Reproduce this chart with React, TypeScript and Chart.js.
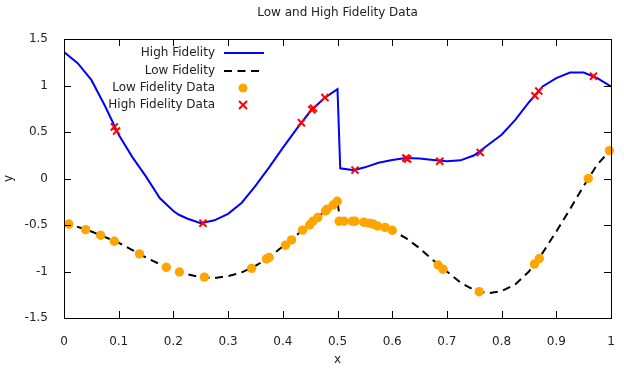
import React, { useEffect, useRef } from "react";
import { Chart, registerables } from "chart.js";

Chart.register(...registerables);

const chartTitle = "Low and High Fidelity Data";
const xTitle = "x";
const yTitle = "y";
const legendLabels = ["High Fidelity", "Low Fidelity", "Low Fidelity Data", "High Fidelity Data"];

const hfCurveX = [0, 0.025, 0.05, 0.075, 0.1, 0.125, 0.15, 0.175, 0.2, 0.21, 0.225, 0.25, 0.275, 0.3, 0.325, 0.35, 0.375, 0.4, 0.425, 0.45, 0.475, 0.5, 0.505, 0.53, 0.55, 0.575, 0.6, 0.625, 0.65, 0.675, 0.7, 0.725, 0.75, 0.775, 0.8, 0.825, 0.85, 0.875, 0.9, 0.925, 0.95, 0.975, 1.0];
const hfCurveY = [1.36, 1.24, 1.06, 0.78, 0.47, 0.23, 0.02, -0.21, -0.35, -0.39, -0.43, -0.48, -0.45, -0.38, -0.26, -0.08, 0.12, 0.33, 0.53, 0.72, 0.86, 0.96, 0.11, 0.09, 0.12, 0.17, 0.2, 0.22, 0.215, 0.2, 0.185, 0.195, 0.25, 0.36, 0.47, 0.63, 0.82, 0.99, 1.08, 1.14, 1.14, 1.08, 0.99];

const lfCurveX = [0, 0.025, 0.05, 0.075, 0.1, 0.125, 0.15, 0.175, 0.2, 0.225, 0.25, 0.275, 0.3, 0.325, 0.35, 0.375, 0.4, 0.425, 0.45, 0.475, 0.5, 0.505, 0.525, 0.55, 0.575, 0.6, 0.625, 0.65, 0.675, 0.7, 0.725, 0.75, 0.775, 0.8, 0.825, 0.85, 0.875, 0.9, 0.925, 0.95, 0.975, 1.0];
const lfCurveY = [-0.48, -0.52, -0.57, -0.63, -0.69, -0.77, -0.85, -0.92, -0.98, -1.03, -1.06, -1.07, -1.05, -1.01, -0.94, -0.85, -0.73, -0.61, -0.49, -0.36, -0.25, -0.46, -0.46, -0.47, -0.51, -0.56, -0.64, -0.75, -0.88, -1.0, -1.12, -1.2, -1.235, -1.21, -1.14, -1.0, -0.8, -0.57, -0.33, -0.08, 0.15, 0.31];

const lfDataX = [0.009, 0.0396, 0.067, 0.092, 0.138, 0.187, 0.211, 0.2565, 0.343, 0.37, 0.375, 0.405, 0.416, 0.436, 0.449, 0.455, 0.464, 0.478, 0.481, 0.492, 0.4995, 0.503, 0.512, 0.527, 0.532, 0.548, 0.558, 0.565, 0.573, 0.587, 0.6, 0.684, 0.693, 0.759, 0.86, 0.869, 0.9585, 0.997];
const lfDataY = [-0.49, -0.55, -0.61, -0.675, -0.81, -0.955, -1.005, -1.06, -0.966, -0.866, -0.85, -0.717, -0.66, -0.555, -0.5, -0.46, -0.42, -0.35, -0.33, -0.285, -0.245, -0.46, -0.46, -0.46, -0.46, -0.47, -0.48, -0.49, -0.51, -0.525, -0.557, -0.93, -0.976, -1.217, -0.92, -0.86, 0.0, 0.3];

const hfDataX = [0.092, 0.096, 0.254, 0.434, 0.453, 0.456, 0.477, 0.532, 0.625, 0.628, 0.687, 0.761, 0.861, 0.868, 0.968];
const hfDataY = [0.555, 0.51, -0.48, 0.6, 0.74, 0.755, 0.87, 0.09, 0.22, 0.21, 0.185, 0.28, 0.89, 0.94, 1.1];

const xTicks = [0, 0.1, 0.2, 0.3, 0.4, 0.5, 0.6, 0.7, 0.8, 0.9, 1];
const yTicks = [-1.5, -1, -0.5, 0, 0.5, 1, 1.5];

const FONT = "DejaVu Sans, sans-serif";
const TEXT = "#222";
const BLUE = "#0000ff";
const ORANGE = "#ffa500";
const RED = "#ff0000";
const DASH = [8, 5.5];

const toPts = (xs: number[], ys: number[]) => xs.map((x, i) => ({ x, y: ys[i] }));
const fmt = (v: any) => String(Number(Number(v).toFixed(2)));

const decorPlugin = {
  id: "decor",
  afterDraw(chart: any) {
    const { ctx, chartArea: a, scales } = chart;
    const xs = scales.x;
    const ys = scales.y;
    ctx.save();
    ctx.strokeStyle = "#000";
    ctx.lineWidth = 1;
    ctx.setLineDash([]);
    ctx.strokeRect(Math.round(a.left) + 0.5, Math.round(a.top) + 0.5, Math.round(a.right - a.left), Math.round(a.bottom - a.top));
    const tl = 7;
    ctx.beginPath();
    xTicks.forEach((v) => {
      const px = Math.round(xs.getPixelForValue(v)) + 0.5;
      ctx.moveTo(px, a.bottom);
      ctx.lineTo(px, a.bottom - tl);
      ctx.moveTo(px, a.top);
      ctx.lineTo(px, a.top + tl);
    });
    yTicks.forEach((v) => {
      const py = Math.round(ys.getPixelForValue(v)) + 0.5;
      ctx.moveTo(a.left, py);
      ctx.lineTo(a.left + tl, py);
      ctx.moveTo(a.right, py);
      ctx.lineTo(a.right - tl, py);
    });
    ctx.stroke();

    ctx.fillStyle = TEXT;
    ctx.font = `12px ${FONT}`;
    ctx.textAlign = "center";
    ctx.textBaseline = "middle";
    ctx.fillText(chartTitle, (a.left + a.right) / 2, 13);
    ctx.fillText(xTitle, (a.left + a.right) / 2, 360);
    ctx.save();
    ctx.translate(9, (a.top + a.bottom) / 2);
    ctx.rotate(-Math.PI / 2);
    ctx.fillText(yTitle, 0, 0);
    ctx.restore();

    const textRight = 215;
    const sx0 = 224;
    const sx1 = 264;
    const sxc = 243;
    const rows = [53, 71, 88, 105];
    ctx.textAlign = "right";
    legendLabels.forEach((t, i) => ctx.fillText(t, textRight, rows[i]));
    ctx.lineWidth = 2;
    ctx.strokeStyle = BLUE;
    ctx.beginPath();
    ctx.moveTo(sx0, rows[0]);
    ctx.lineTo(sx1, rows[0]);
    ctx.stroke();
    ctx.strokeStyle = "#000";
    ctx.setLineDash(DASH);
    ctx.beginPath();
    ctx.moveTo(sx0, rows[1]);
    ctx.lineTo(sx1, rows[1]);
    ctx.stroke();
    ctx.setLineDash([]);
    ctx.fillStyle = ORANGE;
    ctx.beginPath();
    ctx.arc(sxc, rows[2], 4.5, 0, Math.PI * 2);
    ctx.fill();
    ctx.strokeStyle = RED;
    ctx.lineWidth = 2;
    const r = 4;
    ctx.beginPath();
    ctx.moveTo(sxc - r, rows[3] - r);
    ctx.lineTo(sxc + r, rows[3] + r);
    ctx.moveTo(sxc + r, rows[3] - r);
    ctx.lineTo(sxc - r, rows[3] + r);
    ctx.stroke();
    ctx.restore();
  },
};

export default function App() {
  const ref = useRef<HTMLCanvasElement | null>(null);
  useEffect(() => {
    if (!ref.current) return;
    const chart = new Chart(ref.current, {
      type: "scatter",
      data: {
        datasets: [
          {
            label: legendLabels[3],
            data: toPts(hfDataX, hfDataY),
            pointStyle: "crossRot",
            pointRadius: 5,
            borderColor: RED,
            backgroundColor: RED,
            pointBorderWidth: 2,
            showLine: false,
            clip: false as any,
          },
          {
            label: legendLabels[2],
            data: toPts(lfDataX, lfDataY),
            pointStyle: "circle",
            pointRadius: 4.7,
            borderWidth: 0,
            pointBorderWidth: 0,
            backgroundColor: ORANGE,
            borderColor: ORANGE,
            showLine: false,
            clip: false as any,
          },
          {
            label: legendLabels[0],
            data: toPts(hfCurveX, hfCurveY),
            showLine: true,
            pointRadius: 0,
            borderColor: BLUE,
            borderWidth: 2,
            tension: 0,
          },
          {
            label: legendLabels[1],
            data: toPts(lfCurveX, lfCurveY),
            showLine: true,
            pointRadius: 0,
            borderColor: "#000",
            borderWidth: 2,
            borderDash: DASH,
            tension: 0,
          },
        ],
      },
      options: {
        animation: false,
        responsive: false,
        layout: { padding: { left: 0, right: 13, top: 39, bottom: 0 } },
        plugins: { legend: { display: false }, title: { display: false }, tooltip: { enabled: false } },
        scales: {
          x: {
            type: "linear",
            min: 0,
            max: 1,
            grid: { display: false },
            border: { display: false },
            ticks: {
              stepSize: 0.1,
              padding: 9,
              color: TEXT,
              font: { family: FONT, size: 12 },
              maxRotation: 0,
              autoSkip: false,
              callback: (v: any) => fmt(v),
            },
            afterFit: (s: any) => {
              s.height = 52;
              s.paddingLeft = 0;
              s.paddingRight = 0;
            },
          },
          y: {
            type: "linear",
            min: -1.5,
            max: 1.5,
            grid: { display: false },
            border: { display: false },
            ticks: {
              stepSize: 0.5,
              padding: 8,
              color: TEXT,
              font: { family: FONT, size: 12 },
              callback: (v: any) => fmt(v),
            },
            afterFit: (s: any) => {
              s.width = 64;
              s.paddingTop = 0;
              s.paddingBottom = 0;
            },
          },
        },
      },
      plugins: [decorPlugin],
    });
    return () => chart.destroy();
  }, []);
  return (
    <div style={{ position: "fixed", left: 0, top: 0, width: 624, height: 370, background: "#fff" }}>
      <canvas ref={ref} width={624} height={370} />
    </div>
  );
}
